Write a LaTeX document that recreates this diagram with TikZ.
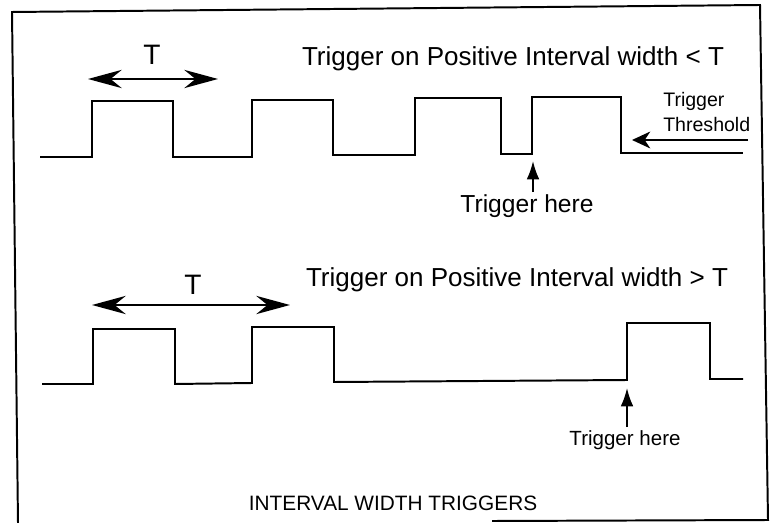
\documentclass[tikz,border=0pt]{standalone}
\usepackage{fontspec}
\setmainfont{Liberation Sans}
\usetikzlibrary{arrows, arrows.meta, positioning}
\tikzset{
    wave/.style={line width=1.4pt},
    span/.style={line width=1.2pt, {Stealth[length=24pt,width=13pt,inset=8pt]}-{Stealth[length=24pt,width=13pt,inset=8pt]}},
    hit/.style={line width=1.3pt, -{Latex[length=13pt,width=9pt]}},
    big/.style={anchor=base, font=\fontsize{18.5}{22}\selectfont},
}

\begin{document}
\begin{tikzpicture}[x=0.025cm, y=-0.025cm]
\useasboundingbox (0,0) rectangle (773,523);

\draw[line width=1.4pt] (492,521) -- (768,520) -- (760,5) -- (12,12) -- (18,523);

\draw[wave] (40,157)--(92,157)--(92,101)--(173,101)--(173,157)--(252,157)--(252,100)--(333,100)--(333,155)
    --(415,155)--(415,98)--(501,98)--(501,154)--(532,154)--(532,97)--(621,97)--(621,153)--(743,153);
\draw[wave] (42,384)--(93,384)--(93,329)--(175,329)--(175,384)--(252,383)--(252,327)--(334,327)--(334,382)
    --(627,380)--(627,323)--(710,323)--(710,379)--(743,379);

\node[big] (less) at (513,66) {Trigger on Positive Interval width < T};
\node[big] (more) at (517,287) {Trigger on Positive Interval width > T};

\node[big, font=\fontsize{20}{24}\selectfont] (T1) at (152,65) {T};
\node[big, font=\fontsize{20}{24}\selectfont] (T2) at (193,295) {T};
\coordinate (L1) at (88,79);
\coordinate (R1) at (218,79);
\coordinate (L2) at (92,305);
\coordinate (R2) at (290,305);
\draw[span] (L1) -- (R1);
\draw[span] (L2) -- (R2);

\node[anchor=base, inner sep=2pt, font=\fontsize{17.5}{21}\selectfont] (here1) at (527,213) {Trigger here};
\node[anchor=base, inner sep=2pt, font=\fontsize{14.6}{18}\selectfont] (here2) at (625,445) {Trigger here};
\coordinate (edge1) at (533,161);
\coordinate (edge2) at (627,388);
\draw[hit] (here1.north -| edge1) -- (edge1);
\draw[hit] (here2.north -| edge2) -- (edge2);

\node[anchor=base west, align=left, inner sep=0pt, font=\fontsize{13.9}{17.8}\selectfont] (thr) at (663,132) {Trigger\\Threshold};
\coordinate (thrA) at (748,140);
\coordinate (thrB) at (632,140);
\draw[line width=1.2pt, -{Stealth[length=13pt,width=12pt,inset=4pt]}] (thrA) -- (thrB);

\node[anchor=base, font=\fontsize{14.8}{18}\selectfont] (foot) at (393,510) {INTERVAL WIDTH TRIGGERS};

\end{tikzpicture}
\end{document}
